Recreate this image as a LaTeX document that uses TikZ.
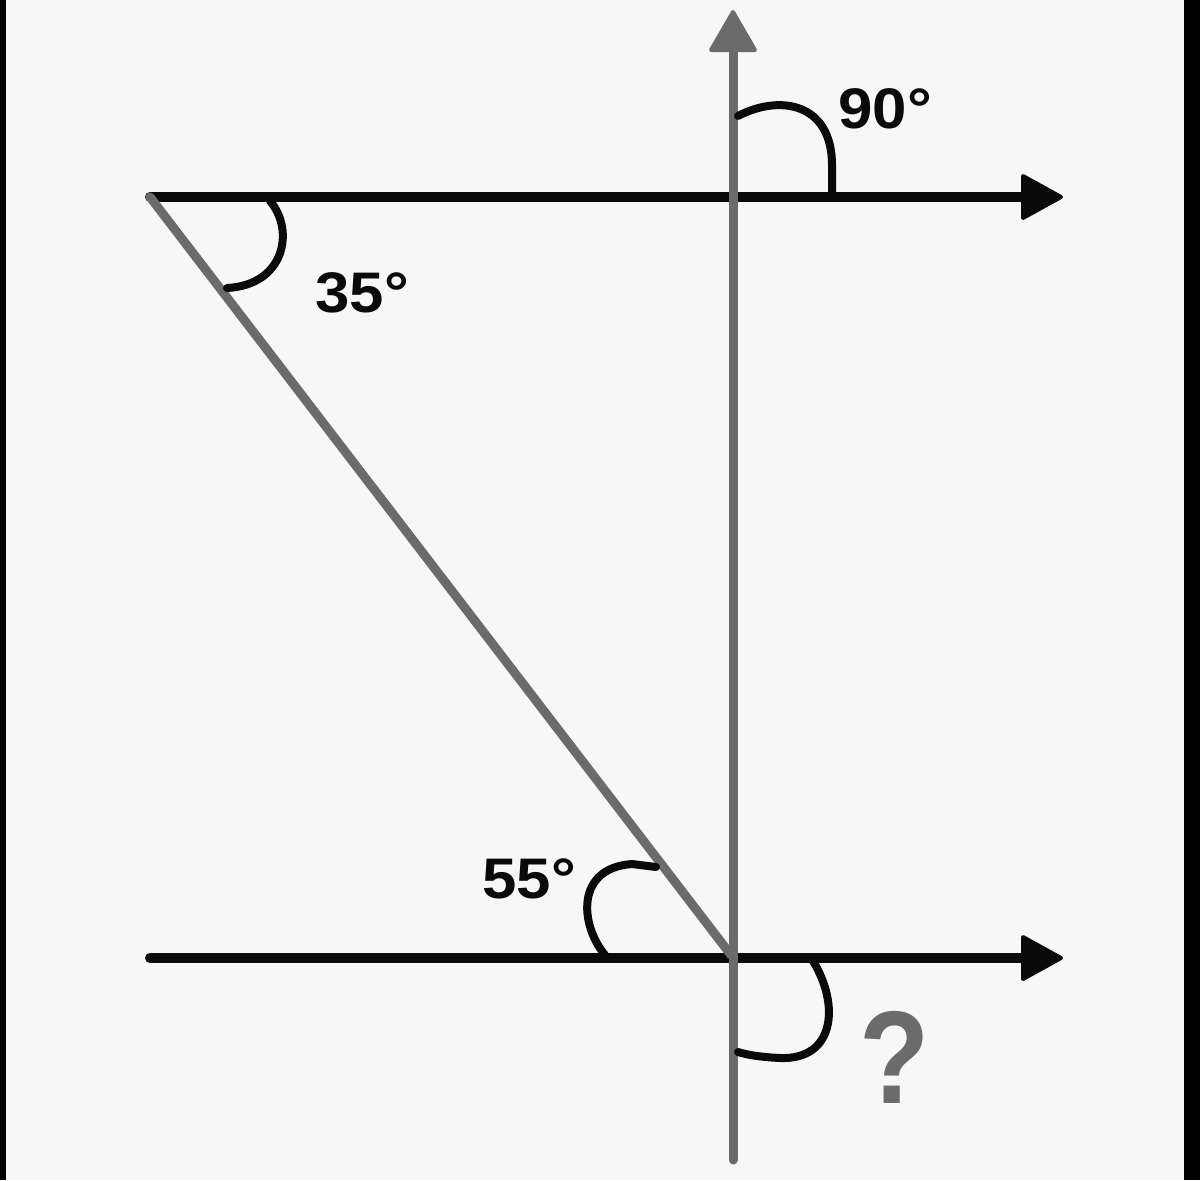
\documentclass[tikz,border=0pt]{standalone}
\usepackage{fontspec}
\setmainfont{Liberation Sans}
\definecolor{bg}{HTML}{F7F7F7}
\definecolor{ink}{HTML}{0A0A0A}
\definecolor{greyline}{HTML}{6B6B6B}
\begin{document}
\begin{tikzpicture}[x=0.5pt,y=-0.5pt,
  blackline/.style={draw=ink,line width=5pt,line cap=round},
  greyray/.style={draw=greyline,line width=4.5pt,line cap=round},
  headblack/.style={fill=ink,draw=ink,line width=2pt,line join=round},
  headgrey/.style={fill=greyline,draw=greyline,line width=2pt,line join=round},
  anglemark/.style={draw=ink,line width=4pt,line cap=round},
  deglabel/.style={font=\bfseries\fontsize{28.6}{30}\selectfont,text=ink,inner sep=0pt,anchor=base west,xscale=1.08},
  qlabel/.style={font=\bfseries\fontsize{66}{68}\selectfont,text=greyline,inner sep=0pt,anchor=base west,xscale=0.87}]
\useasboundingbox (0,0) rectangle (1200,1180);
\fill[bg] (0,0) rectangle (1200,1180);
\fill[black] (0,0) rectangle (6,1180);
\fill[black] (1184,0) rectangle (1200,1180);
% points
\coordinate (A) at (150,197);
\coordinate (TopBase) at (1025,197);
\coordinate (TopTip) at (1061,197);
\coordinate (BL) at (150,958);
\coordinate (BotBase) at (1025,958);
\coordinate (BotTip) at (1061,958);
\coordinate (V0) at (733,1160);
\coordinate (VBase) at (733,50);
\coordinate (VTip) at (733,12);
\coordinate (J) at (731,955);
% horizontal lines with arrowheads
\draw[blackline] (A) -- (TopBase);
\filldraw[headblack] (1023,176) -- (TopTip) -- (1023,218) -- cycle;
\draw[blackline] (BL) -- (BotBase);
\filldraw[headblack] (1023,937) -- (BotTip) -- (1023,979) -- cycle;
% diagonal
\draw[greyray] (A) -- (J);
% vertical line with arrowhead
\draw[greyray] (V0) -- (VBase);
\filldraw[headgrey] (711,50) -- (VTip) -- (755,50) -- cycle;
% angle marks
\draw[anglemark] (738,116) .. controls (780,94) and (832,103) .. (832,165) -- (832,192);
\draw[anglemark] (270,201) .. controls (295,230) and (285,285) .. (227,288);
\draw[anglemark] (605,955) .. controls (580,925) and (575,868) .. (632,864) -- (656,867);
\draw[anglemark] (813,961) .. controls (840,1005) and (835,1060) .. (780,1058) .. controls (760,1057) and (748,1055) .. (738,1052);
% labels
\node[deglabel] (l90) at (838,128) {90°};
\node[deglabel] (l35) at (315,312) {35°};
\node[deglabel] (l55) at (482,898) {55°};
\node[qlabel] (lq) at (859,1103) {?};
\end{tikzpicture}
\end{document}
